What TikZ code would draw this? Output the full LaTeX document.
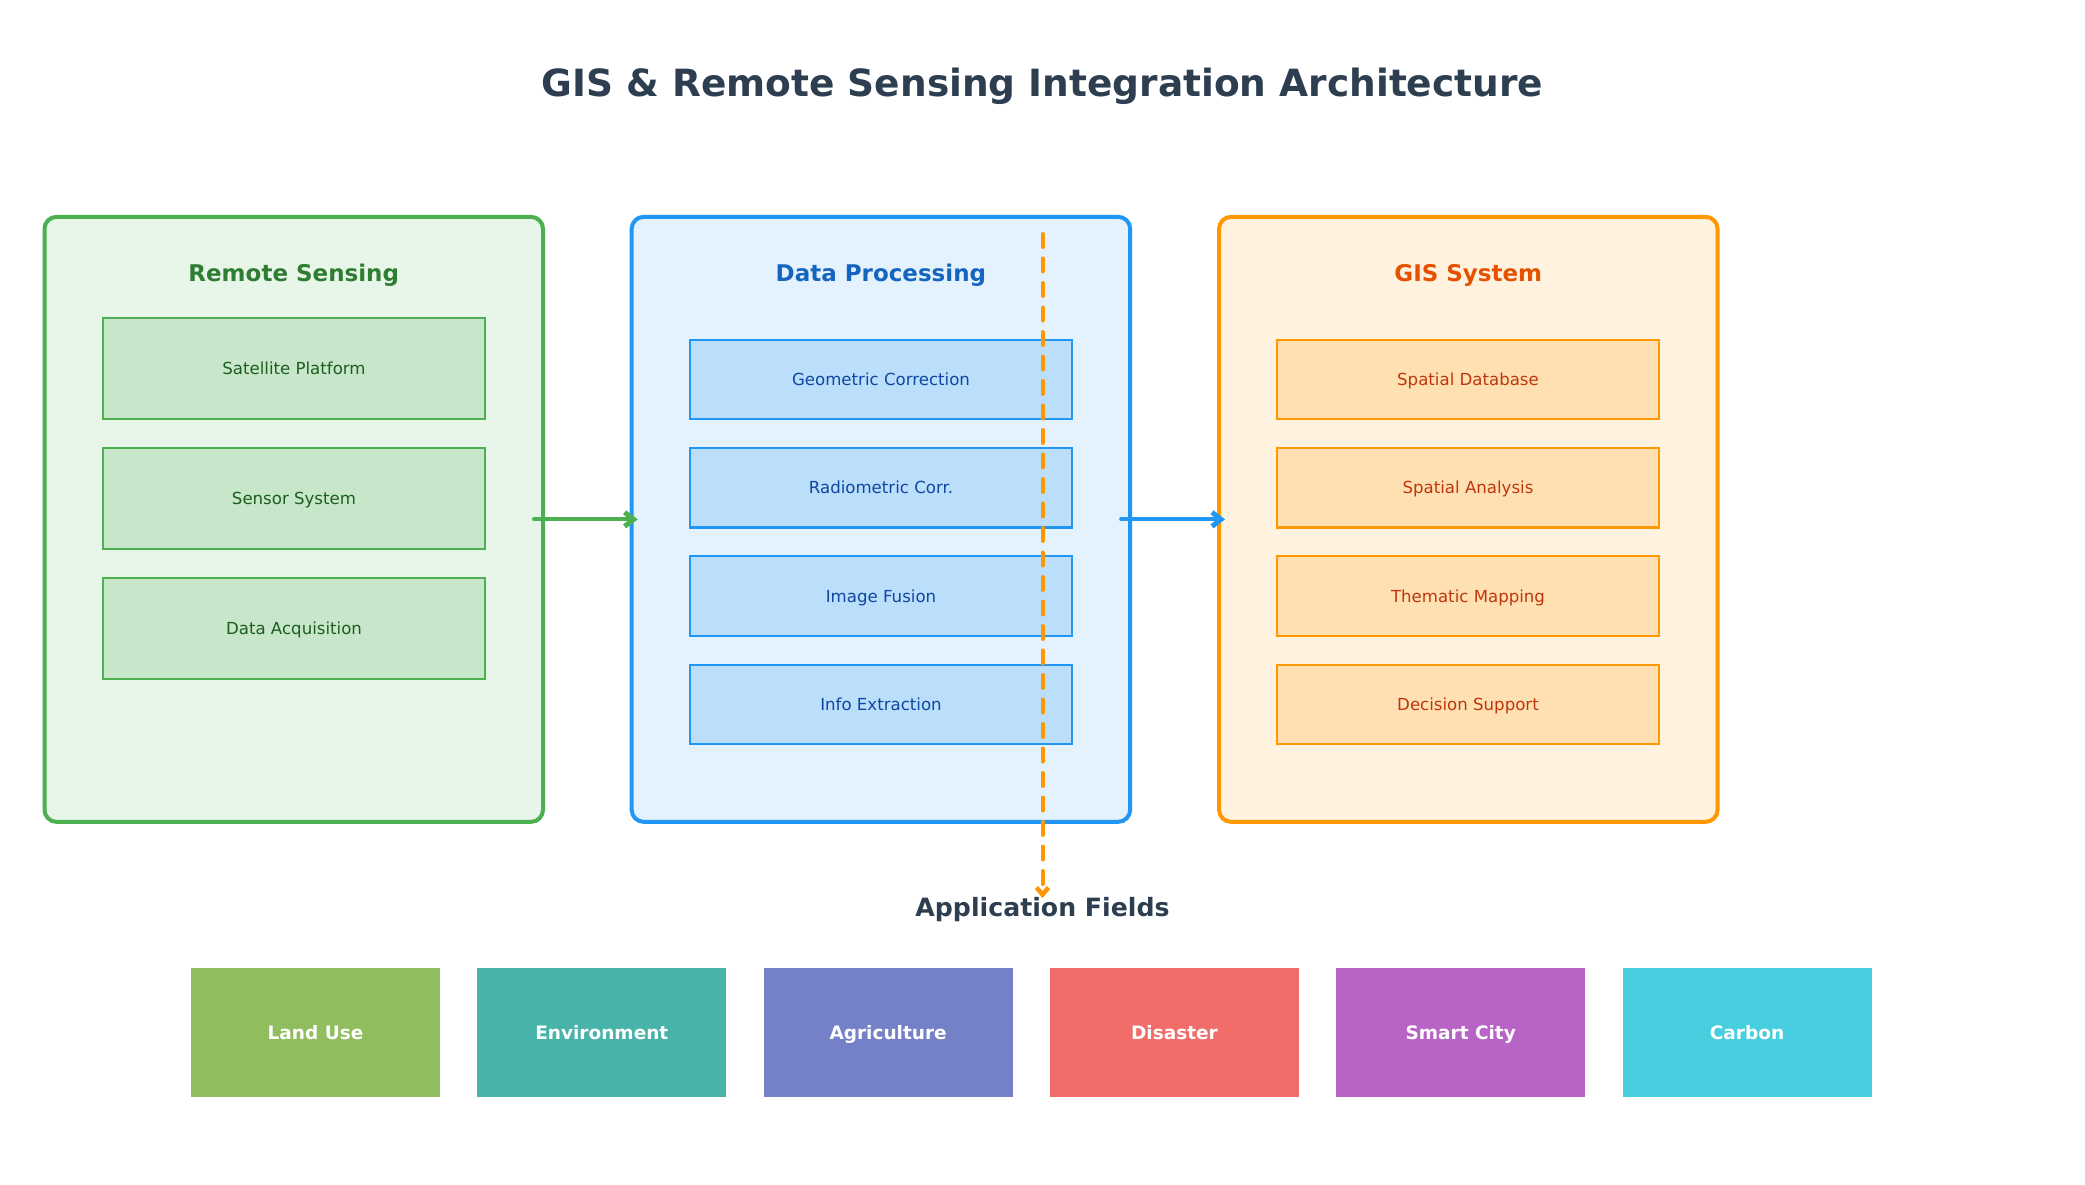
\documentclass[tikz,border=0pt]{standalone}
\usepackage{fontspec}
\setmainfont{DejaVu Sans}
\usetikzlibrary{arrows.meta}
\definecolor{titlec}{HTML}{2C3E50}
\definecolor{gborder}{HTML}{4CAF50}
\definecolor{gfill}{HTML}{E8F5E9}
\definecolor{ginner}{HTML}{C8E6C9}
\definecolor{gtitle}{HTML}{2E7D32}
\definecolor{gtext}{HTML}{1B5E20}
\definecolor{bborder}{HTML}{2196F3}
\definecolor{bfill}{HTML}{E3F2FD}
\definecolor{binner}{HTML}{BBDEFB}
\definecolor{btitle}{HTML}{1565C0}
\definecolor{btext}{HTML}{0D47A1}
\definecolor{oborder}{HTML}{FF9800}
\definecolor{ofill}{HTML}{FFF3E0}
\definecolor{oinner}{HTML}{FFE0B2}
\definecolor{otitle}{HTML}{E65100}
\definecolor{otext}{HTML}{BF360C}
\definecolor{appA}{HTML}{90BE5E}
\definecolor{appB}{HTML}{47B3A9}
\definecolor{appC}{HTML}{7481C9}
\definecolor{appD}{HTML}{F16D6A}
\definecolor{appE}{HTML}{B863C6}
\definecolor{appF}{HTML}{47CFE0}
\begin{document}
\begin{tikzpicture}[x=1pt,y=-1pt,
  panel/.style={draw=#1, line width=4pt, rounded corners=12pt, minimum width=498.5pt, minimum height=605pt, inner sep=0pt},
  inbox/.style={line width=2.2pt, minimum width=382pt, inner sep=0pt, text height=12.1pt, text depth=0pt, font=\fontsize{16.6}{20}\selectfont},
  ptitle/.style={anchor=base, inner sep=0pt, font=\fontsize{23}{28}\selectfont\bfseries},
  appbox/.style={fill=#1, minimum width=249pt, minimum height=129pt, inner sep=0pt, text=white, text height=13.5pt, text depth=0pt, font=\fontsize{18.5}{22}\selectfont\bfseries},
  flow/.style={draw=#1, line width=4pt, line cap=round, -{Straight Barb[length=9pt,width=14pt,line width=5pt]}}
]
\useasboundingbox[fill=white] (0,0) rectangle (2085,1185);

% title
\node[anchor=base, inner sep=0pt, text=titlec, font=\fontsize{37.5}{45}\selectfont\bfseries] (title) at (1042.5,97) {GIS \& Remote Sensing Integration Architecture};

% panels
\node[panel=gborder, fill=gfill] (rs) at (293.75,519.35) {};
\node[panel=bborder, fill=bfill] (dp) at (880.9,519.35) {};
\node[panel=oborder, fill=ofill] (gis) at (1468.3,519.35) {};

\node[ptitle, text=gtitle] (rsT) at (293.75,281) {Remote Sensing};
\node[ptitle, text=btitle] (dpT) at (880.9,281) {Data Processing};
\node[ptitle, text=otitle] (gisT) at (1468.3,281) {GIS System};

% remote sensing inner
\node[inbox, draw=gborder, fill=ginner, text=gtext, minimum height=101pt] (rs1) at (294,368.5) {Satellite Platform};
\node[inbox, draw=gborder, fill=ginner, text=gtext, minimum height=101pt] (rs2) at (294,498.5) {Sensor System};
\node[inbox, draw=gborder, fill=ginner, text=gtext, minimum height=101pt] (rs3) at (294,628.5) {Data Acquisition};

% data processing inner
\node[inbox, draw=bborder, fill=binner, text=btext, minimum height=79.5pt] (dp1) at (881,379.5) {Geometric Correction};
\node[inbox, draw=bborder, fill=binner, text=btext, minimum height=79.5pt] (dp2) at (881,487.8) {Radiometric Corr.};
\node[inbox, draw=bborder, fill=binner, text=btext, minimum height=79.5pt] (dp3) at (881,596.1) {Image Fusion};
\node[inbox, draw=bborder, fill=binner, text=btext, minimum height=79.5pt] (dp4) at (881,704.4) {Info Extraction};

% gis inner
\node[inbox, draw=oborder, fill=oinner, text=otext, minimum height=79.5pt] (g1) at (1468,379.5) {Spatial Database};
\node[inbox, draw=oborder, fill=oinner, text=otext, minimum height=79.5pt] (g2) at (1468,487.8) {Spatial Analysis};
\node[inbox, draw=oborder, fill=oinner, text=otext, minimum height=79.5pt] (g3) at (1468,596.1) {Thematic Mapping};
\node[inbox, draw=oborder, fill=oinner, text=otext, minimum height=79.5pt] (g4) at (1468,704.4) {Decision Support};

% flow arrows
\draw[flow=gborder] ([xshift=-11pt]rs.east) -- ([xshift=8pt]dp.west);
\draw[flow=bborder] ([xshift=-11pt]dp.east) -- ([xshift=8pt]gis.west);

% application fields
\node[anchor=base, inner sep=0pt, text=titlec, font=\fontsize{25.2}{30}\selectfont\bfseries] (app) at (1042.5,916.7) {Application Fields};

\coordinate (dstart) at (1042.5,234);
\coordinate (dend) at (1042.5,898);
\draw[draw=oborder, line width=4pt, line cap=round, dash pattern=on 13pt off 11.5pt, -{Straight Barb[length=7pt,width=12pt,line width=4.5pt]}] (dstart) -- (dend);

\node[appbox=appA] (a1) at (315.5,1032.5) {Land Use};
\node[appbox=appB] (a2) at (601.8,1032.5) {Environment};
\node[appbox=appC] (a3) at (888.1,1032.5) {Agriculture};
\node[appbox=appD] (a4) at (1174.4,1032.5) {Disaster};
\node[appbox=appE] (a5) at (1460.7,1032.5) {Smart City};
\node[appbox=appF] (a6) at (1747,1032.5) {Carbon};
\end{tikzpicture}
\end{document}
